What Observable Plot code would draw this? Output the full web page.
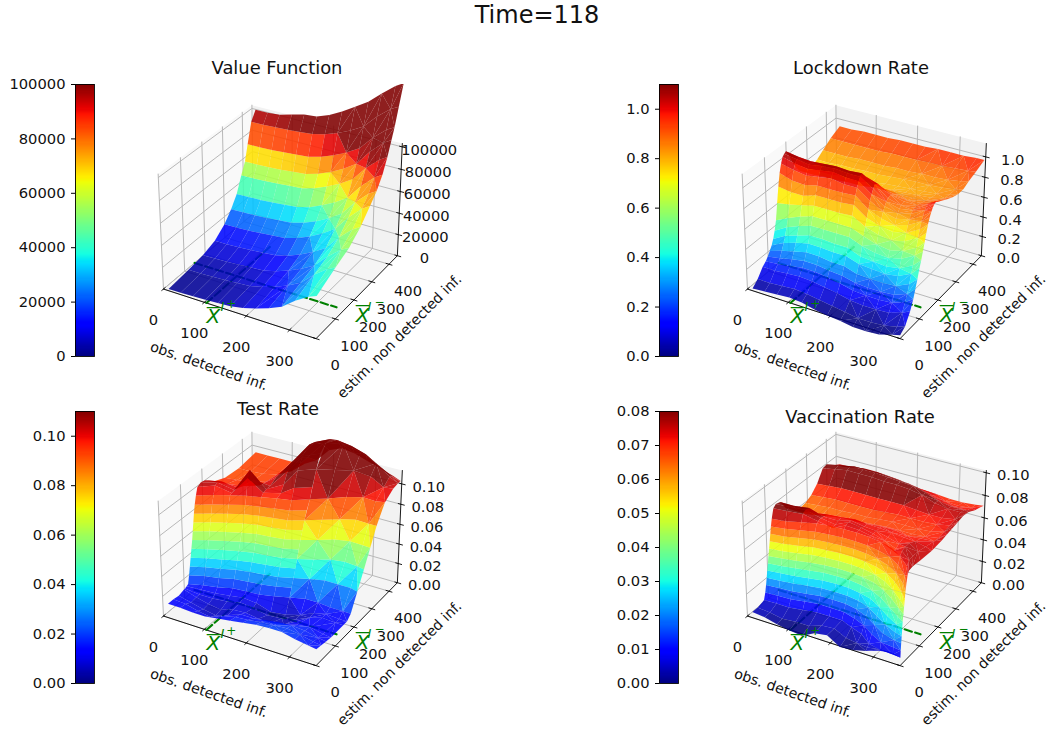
<!DOCTYPE html>
<html><head><meta charset="utf-8">
<script src="https://cdn.jsdelivr.net/npm/d3@7"></script>
<script src="https://cdn.jsdelivr.net/npm/@observablehq/plot@0.6"></script>
<style>
html,body{margin:0;padding:0;background:#fff;overflow:hidden}
#page{position:relative;width:1047px;height:733px;overflow:hidden;font-family:"DejaVu Sans",sans-serif;color:#111}
#page>svg{position:absolute;max-width:none}
.ttl{position:absolute;transform:translate(-50%,-50%);white-space:nowrap;line-height:1}
</style></head><body><div id="page"></div>
<script>
const suptitle = "Time=118";
const gridX = [10,40,70,100,130,160,190,220,250,280,310,340,358];
const valueY = [5,100,170,230,280,315,345,370,390,405,425,448];
const lockdownY = [5,30,55,70,80,90,100,108,116,124,132,140,148,156,164,172,180,195,215,240,270,300,330,360,400,448];
const xTicks = [0,100,200,300];
const yTicks = [0,100,200,300,400];
const xMax = 360, yMax = 450;
const xStar = 105, yStar = 148;

// rows follow the y list, columns follow gridX
const valueZ = [
[500,700,1000,1600,2300,3100,5200,8500,12500,17700,26800,34000,37000],
[2500,2700,3200,3800,4700,5500,8200,12000,16900,23000,33800,42500,46000],
[5000,5200,5700,6400,7400,8300,11100,15300,20500,27100,38800,48200,52000],
[9000,9300,9800,10600,11600,12600,15800,20400,26200,33400,46400,56800,61000],
[17000,17300,17800,18700,19800,20900,24200,29100,35200,42900,56600,67600,72000],
[26000,26300,26800,27600,28700,29800,33000,37900,43800,51400,64900,75700,80000],
[36000,36300,36800,37600,38700,39800,43000,47900,53800,61400,74900,85700,90000],
[50000,50300,50800,51600,52600,53600,56800,61400,67200,74400,87400,97800,102000],
[60000,60300,60800,61600,62700,63800,67000,71900,77800,85400,98900,109700,114000],
[74000,74200,74700,75500,76500,77400,80400,84800,90200,97000,109300,119100,123000],
[92000,92200,92700,93400,94300,95200,98000,102100,107200,113600,125100,134300,138000],
[100000,100000,101000,104000,107000,108000,112000,118000,125000,132000,142000,151000,155000]];

const lockdownZ = [
[.01,.02,.03,.04,.03,.00,-.02,-.03,-.05,-.05,-.04,.00,.02],
[.06,.06,.07,.08,.07,.05,.03,.01,-.01,-.01,.00,.03,.06],
[.14,.14,.15,.16,.15,.13,.11,.08,.07,.07,.08,.12,.16],
[.17,.18,.20,.22,.22,.20,.18,.15,.14,.14,.15,.20,.25],
[.20,.22,.25,.27,.27,.25,.24,.21,.20,.20,.21,.26,.33],
[.24,.28,.31,.34,.34,.32,.32,.28,.27,.27,.28,.34,.41],
[.28,.34,.38,.41,.41,.40,.40,.36,.35,.34,.36,.42,.50],
[.33,.40,.44,.48,.48,.47,.47,.42,.41,.40,.42,.49,.56],
[.40,.47,.52,.56,.56,.56,.56,.51,.48,.47,.50,.57,.63],
[.49,.55,.60,.64,.64,.64,.64,.59,.55,.53,.56,.63,.70],
[.65,.67,.70,.73,.73,.73,.74,.67,.63,.61,.64,.71,.78],
[.80,.78,.78,.82,.82,.82,.83,.74,.70,.68,.71,.78,.85],
[.92,.88,.87,.90,.90,.90,.91,.81,.76,.73,.77,.84,.90],
[1.0,.97,.95,.97,.99,.97,.97,.88,.81,.78,.81,.88,.94],
[1.05,1.02,1.0,1.02,1.04,1.02,1.02,.93,.85,.82,.85,.92,.97],
[1.07,1.05,1.03,1.05,1.06,1.05,1.05,.97,.88,.85,.87,.94,.99],
[1.08,1.06,1.05,1.06,1.07,1.06,1.07,1.0,.90,.87,.88,.95,1.0],
[1.01,1.0,1.0,1.0,1.02,1.0,1.02,.98,.91,.88,.88,.94,.98],
[.90,.90,.90,.90,.92,.90,.93,.91,.88,.86,.87,.91,.95],
[.80,.80,.81,.81,.82,.82,.84,.84,.84,.84,.85,.89,.92],
[.75,.75,.76,.76,.77,.77,.79,.80,.81,.82,.83,.86,.89],
[.74,.74,.75,.75,.76,.76,.78,.79,.80,.81,.82,.85,.87],
[.77,.77,.78,.78,.79,.79,.80,.81,.82,.82,.83,.85,.87],
[.82,.82,.82,.83,.83,.83,.84,.84,.85,.85,.86,.88,.90],
[.88,.88,.88,.88,.88,.89,.89,.89,.90,.90,.91,.92,.93],
[.93,.93,.94,.94,.94,.95,.95,.95,.96,.96,.96,.97,.97]];

// Test Rate: a mesh that follows the wall
const testLowY = [
[5,5,5,5,5,5,5,5,5,5,5,5,5],[30,30,30,30,30,30,30,30,30,30,30,30,30],
[55,55,55,55,55,55,55,55,55,55,55,55,55],[80,80,80,80,80,80,80,80,80,80,80,80,80],
[85,95,100,110,115,118,125,135,140,145,145,145,145],
[93,105,113,125,130,133,143,155,165,170,165,165,165]];
const testLowZ = [
[.013,.013,.012,.012,.014,.016,.018,.020,.021,.021,.018,.016,.015],
[.013,.012,.009,.007,.012,.015,.016,.018,.019,.020,.018,.015,.014],
[.012,.009,.006,.004,.008,.013,.013,.015,.017,.018,.017,.014,.013],
[.014,.010,.007,.005,.009,.010,.008,.008,.010,.014,.016,.013,.012],
[.014,.010,.009,.008,.010,.008,.003,.002,.004,.009,.013,.012,.012],
[.015,.013,.012,.011,.012,.010,.003,.002,.004,.009,.013,.012,.012]];
const testLevels = [.016,.024,.032,.04,.048,.056,.064,.072,.08,.088,.096];
// where each column reaches those levels
const testLevelY = [
[100,106,111,116,121,126,130,134,138,143,150],
[115,122,128,134,141,147,152,157,162,167,175],
[125,133,141,149,157,164,170,176,181,187,195],
[140,148,156,164,172,180,187,194,201,207,213],
[145,155,165,175,185,193,200,206,212,218,225],
[148,160,172,182,190,198,205,212,220,228,240],
[160,170,180,190,198,205,212,220,228,238,250],
[175,185,195,205,213,221,230,240,250,262,278],
[190,200,212,222,232,242,252,263,275,288,305],
[190,210,225,240,254,265,276,287,300,315,335],
[185,205,225,245,262,275,288,302,318,335,355],
[185,205,225,243,258,272,286,300,316,332,352],
[185,205,218,235,252,268,284,300,316,335,360]];
const testTopY = [
[158,183,203,221,235,260,262,290,320,352,375,372,385],
[175,195,215,232,250,275,280,310,340,372,395,395,405],
[195,215,235,250,270,295,305,330,360,392,410,410,420],
[230,240,260,280,300,330,340,360,385,410,425,428,433],
[290,290,300,320,340,360,370,385,405,425,437,438,440],
[360,360,360,370,380,400,410,420,430,438,442,443,444],
[448,448,448,448,448,448,448,448,448,448,448,448,448]];
const testTopZ = [
[.103,.104,.097,.112,.099,.098,.106,.106,.104,.104,.102,.100,.100],
[.105,.105,.098,.118,.100,.104,.120,.120,.118,.116,.110,.103,.102],
[.104,.103,.097,.106,.100,.114,.130,.132,.130,.124,.116,.106,.103],
[.097,.097,.095,.096,.104,.120,.136,.138,.136,.128,.118,.108,.103],
[.092,.093,.093,.094,.105,.118,.134,.138,.136,.126,.116,.107,.103],
[.091,.091,.092,.093,.098,.112,.126,.132,.128,.122,.113,.106,.103],
[.094,.094,.094,.094,.095,.102,.115,.12,.118,.114,.11,.106,.103]];

// Vaccination Rate: a mesh that follows the wall
const vaccinationLowY = [
[5,5,5,5,5,5,5,5,5,5,5,5,5],
[30,30,30,35,40,40,40,35,25,12,7,6,5.5]];
const vaccinationLowZ = [
[.004,.003,.000,-.002,-.003,.003,.005,-.002,-.001,.002,.006,.008,.006],
[.004,.003,.001,.001,.000,.004,.005,.001,.002,.004,.007,.008,.006]];
const vaccinationLevels = [.006,.012,.018,.024,.03,.036,.042,.048,.054,.06,.066,.072];
const vaccinationLevelY = [
[60,67,72,76,80,84,88,92,96,100,104,109],
[62,70,76,81,86,90,94,98,102,106,111,116],
[62,72,80,86,92,98,103,108,113,118,124,132],
[70,80,88,95,101,107,113,119,125,131,137,145],
[78,88,96,103,109,115,120,125,130,136,142,152],
[78,88,97,105,112,118,123,128,134,140,146,155],
[78,88,97,105,112,118,123,128,134,140,146,155],
[62,76,88,98,105,112,118,124,130,136,143,152],
[48,60,72,84,94,102,110,116,122,128,135,145],
[20,34,48,60,72,82,92,100,107,114,122,133],
[10,15,25,36,46,56,66,74,82,90,98,108],
[8,10,13,18,24,30,36,42,49,56,64,75],
[6,7,9,11,13,15,18,21,24,27,31,36]];
const vaccinationTopY = [
[118,123,140,152,160,163,165,160,152,142,117,84,42],
[130,135,152,165,175,178,178,172,165,155,135,105,60],
[150,155,170,180,190,192,192,188,180,170,155,130,100],
[175,175,190,200,205,208,208,205,200,195,185,170,160],
[215,215,215,215,215,215,215,215,215,215,215,215,215],
[240,240,240,240,240,240,240,240,240,240,240,240,240],
[270,270,270,270,270,270,270,270,270,270,270,270,270],
[300,300,300,300,300,300,300,300,300,300,300,300,300],
[330,330,330,330,330,330,330,330,330,330,330,330,330],
[360,360,360,360,360,360,360,360,360,360,360,360,360],
[380,380,380,380,380,380,380,380,380,380,380,380,380],
[400,400,400,400,400,400,400,400,400,400,400,400,400],
[420,420,420,420,420,420,420,420,420,420,420,420,420],
[448,448,448,448,448,448,448,448,448,448,448,448,448]];
const vaccinationTopZ = [
[.080,.080,.078,.073,.069,.074,.073,.072,.070,.068,.075,.076,.075],
[.082,.082,.080,.074,.070,.075,.073,.072,.070,.068,.076,.076,.076],
[.081,.080,.079,.073,.071,.074,.072,.072,.071,.070,.076,.076,.075],
[.072,.072,.072,.072,.072,.073,.072,.072,.072,.072,.073,.074,.074],
[.064,.064,.066,.068,.070,.070,.071,.072,.072,.070,.071,.072,.075],
[.062,.062,.064,.065,.066,.066,.067,.068,.068,.068,.069,.071,.076],
[.063,.064,.065,.065,.066,.066,.067,.068,.068,.068,.069,.072,.077],
[.066,.067,.068,.068,.068,.068,.069,.070,.070,.070,.071,.073,.078],
[.072,.073,.074,.074,.074,.074,.074,.074,.073,.072,.072,.074,.079],
[.082,.084,.086,.086,.086,.085,.085,.084,.082,.078,.076,.076,.078],
[.083,.085,.087,.087,.087,.086,.085,.084,.081,.077,.075,.075,.076],
[.080,.082,.084,.084,.084,.083,.082,.080,.076,.073,.072,.072,.074],
[.077,.078,.08,.08,.08,.079,.078,.076,.073,.071,.07,.071,.073],
[.074,.074,.076,.076,.075,.074,.072,.07,.07,.069,.069,.07,.071]];

const titles = ["Value Function","Lockdown Rate","Test Rate","Vaccination Rate"];
const titleCenters = [[277,68],[861,68],[278,409],[860,417]];
const zLimits = [103000,1.13,.113,.102];
const colorMax = [100000,1.1,.11,.08];
const zTicks = [[0,20000,40000,60000,80000,100000],[0,.2,.4,.6,.8,1],[0,.02,.04,.06,.08,.1],[0,.02,.04,.06,.08,.1]];
const barTicks = [[0,20000,40000,60000,80000,100000],[0,.2,.4,.6,.8,1],[0,.02,.04,.06,.08,.1],[0,.01,.02,.03,.04,.05,.06,.07,.08]];
const tickFormats = ["d",".1f",".2f",".2f"];
// the Test Rate facets on the right are visibly larger in the picture
const coarseRows = [null,null,[0,1,2,3,4,5,6,8,10,12,14,16,18,20,22,23],null];

const flatRows=(ys)=>ys.map(y=>gridX.map(()=>y));
const levelRows=(ls)=>ls.map(z=>gridX.map(()=>z));
const meshY=[flatRows(valueY),flatRows(lockdownY),
  [...testLowY,...d3.transpose(testLevelY),...testTopY],
  [...vaccinationLowY,...d3.transpose(vaccinationLevelY),...vaccinationTopY]];
const meshZ=[valueZ,lockdownZ,
  [...testLowZ,...levelRows(testLevels),...testTopZ],
  [...vaccinationLowZ,...levelRows(vaccinationLevels),...vaccinationTopZ]];

const jetStops = [0,.11,.125,.34,.35,.375,.64,.65,.66,.89,.91,1];
const jetColors = ["rgb(0,0,128)","rgb(0,0,255)","rgb(0,0,255)","rgb(0,219,255)","rgb(0,230,247)","rgb(21,255,226)",
 "rgb(238,255,8)","rgb(247,246,0)","rgb(255,236,0)","rgb(255,19,0)","rgb(232,0,0)","rgb(128,0,0)"];

const page = document.getElementById("page");
const FONT = {fontFamily:"DejaVu Sans, sans-serif",background:"transparent",overflow:"visible"};
const TICK = 14.7, LABEL = 14.2;

function addTitle(text,cx,cy,size){
  const d=document.createElement("div");d.className="ttl";d.textContent=text;
  d.style.left=cx+"px";d.style.top=cy+"px";d.style.fontSize=size+"px";page.appendChild(d);
}
// matplotlib's default 3D view: elev 30, azim -60, perspective at distance 10
const BX=1.1429,BY=1.1429,BZ=.8571;
function projector(zMax){
  return (x,y,z)=>{
    const dx=(x/xMax-.5)*BX, dy=(y/yMax-.5)*BY, dz=(z/zMax-.5)*BZ;
    const depth=.433*dx-.75*dy+.5*dz, den=10-depth;
    return {u:(.866*dx+.5*dy)/den, v:(-.25*dx+.433*dy+.866*dz)/den, depth};
  };
}
function panel(i){
  const col=i%2,row=i>>1,zMax=zLimits[i],vMax=colorMax[i],P=projector(zMax),Z=meshZ[i],Y=meshY[i];
  const colorScale={type:"linear",domain:jetStops.map(t=>t*vMax),range:jetColors,clamp:true};
  // surface facets: whole quads on the left, triangles on the coarser right side
  const polys=[];
  const vert=(r,c)=>[gridX[c],Y[r][c],Z[r][c]];
  const leftRows=d3.range(Y.length), rightRows=coarseRows[i]||leftRows;
  for(let c=0;c<gridX.length-1;c++){
    const rows=c<7?leftRows:rightRows;
    for(let k=0;k<rows.length-1;k++){
      const r0=rows[k],r1=rows[k+1];
      const a=vert(r0,c),b=vert(r0,c+1),d=vert(r1,c+1),e=vert(r1,c);
      if(c<7) polys.push([a,b,d,e]);
      else polys.push(...((k+c)%2?[[a,b,d],[a,d,e]]:[[a,b,e],[b,d,e]]));
    }
  }
  const faces=polys.map(t=>{
    const p=t.map(q=>P(...q));
    return {p,val:d3.mean(t,q=>q[2]),depth:d3.mean(p,q=>q.depth)};
  }).sort((a,b)=>a.depth-b.depth);
  const faceRows=faces.flatMap((f,k)=>f.p.map(q=>({u:q.u,v:q.v,id:k,val:f.val})));
  const path=(pts,id=0)=>pts.map(q=>({...P(...q),id}));
  const seg=(list)=>list.flatMap((pts,k)=>path(pts,k));
  const floor=path([[0,0,0],[xMax,0,0],[xMax,yMax,0],[0,yMax,0]]);
  const left=path([[0,0,0],[0,yMax,0],[0,yMax,zMax],[0,0,zMax]]);
  const back=path([[0,yMax,0],[xMax,yMax,0],[xMax,yMax,zMax],[0,yMax,zMax]]);
  const grid=seg([
    ...xTicks.map(x=>[[x,0,0],[x,yMax,0],[x,yMax,zMax]]),
    ...yTicks.map(y=>[[xMax,y,0],[0,y,0],[0,y,zMax]]),
    ...zTicks[i].map(z=>[[0,0,z],[0,yMax,z],[xMax,yMax,z]])]);
  const axes=seg([[[0,0,0],[xMax,0,0],[xMax,yMax,0],[xMax,yMax,zMax]]]);
  const ticks=seg([
    ...xTicks.map(x=>[[x,8,0],[x,-8,0]]),
    ...yTicks.map(y=>[[xMax-7,y,0],[xMax+7,y,0]]),
    ...zTicks[i].map(z=>[[xMax-6,yMax,z],[xMax+8,yMax,z]])]);
  const dashes=seg([[[xStar,0,0],[xStar,yStar*2.2,0]],[[0,yStar,0],[xMax-18,yStar,0]]]);
  const ln=(d,o)=>Plot.line(d,{x:"u",y:"v",z:"id",...o});
  const at=(d,f,text,o)=>Plot.text(d,{x:q=>f(q).u,y:q=>f(q).v,text,fontSize:TICK,fill:"#111",...o});
  const plus=P(xStar,0,0),minus=P(xMax-2,yStar,0);
  const g={fill:"green",fontStyle:"italic"};
  const svg=Plot.plot({
    width:470,height:405,marginTop:84,marginLeft:0,marginRight:0,marginBottom:0,
    style:FONT,
    x:{axis:null,domain:[-.1,.1],range:[129,435]},
    y:{axis:null,domain:[-.1,.1],range:[369,63]},
    color:colorScale,
    marks:[
      ln(floor,{fill:"#f5f5f5",stroke:"none"}),
      ln(left,{fill:"#f9f9f9",stroke:"none"}),
      ln(back,{fill:"#f2f2f2",stroke:"none"}),
      ln(grid,{stroke:"#b8b8b8",strokeWidth:1}),
      ln(axes,{stroke:"#000",strokeWidth:.9}),
      ln(ticks,{stroke:"#000",strokeWidth:.9}),
      ln(dashes,{stroke:"green",strokeWidth:2.1,strokeDasharray:"7.7 3.3"}),
      ln(faceRows,{fill:"val",stroke:"none",fillOpacity:.88,clip:true}),
      at(xTicks,x=>P(x,0,0),String,{dx:-10,dy:31}),
      at(yTicks,y=>P(xMax,y,0),String,{dx:19,dy:27}),
      at(zTicks[i],z=>P(xMax,yMax,z),d3.format(tickFormats[i]),{dx:27,dy:3}),
      at([180],x=>P(x,0,0),()=>"obs. detected inf.",{dx:-29,dy:53,rotate:19,fontSize:LABEL}),
      at([225],y=>P(xMax,y,0),()=>"estim. non detected inf.",{dx:41,dy:41,rotate:-45,fontSize:LABEL}),
      Plot.text([plus],{x:"u",y:"v",text:()=>"X",fontSize:20,dx:7,dy:14,...g}),
      Plot.text([plus],{x:"u",y:"v",text:()=>"—",fontSize:15,dx:7,dy:4,fill:"green"}),
      Plot.text([plus],{x:"u",y:"v",text:()=>"I",fontSize:13,dx:16,dy:4,...g}),
      Plot.text([plus],{x:"u",y:"v",text:()=>"+",fontSize:12,dx:25,dy:1,fill:"green"}),
      Plot.text([minus],{x:"u",y:"v",text:()=>"X",fontSize:20,dx:19,dy:6,...g}),
      Plot.text([minus],{x:"u",y:"v",text:()=>"—",fontSize:15,dx:19,dy:-4,fill:"green"}),
      Plot.text([minus],{x:"u",y:"v",text:()=>"I",fontSize:13,dx:26,dy:-3,...g}),
      Plot.text([minus],{x:"u",y:"v",text:()=>"−",fontSize:12,dx:36,dy:-7,fill:"green"})
    ]
  });
  svg.style.left=col*584+"px";svg.style.top=row*327+"px";
  page.appendChild(svg);
  // colour bar
  const cells=d3.range(256).map(k=>({lo:k/256*vMax,hi:(k+1)/256*vMax,mid:(k+.5)/256*vMax}));
  const bar=Plot.plot({
    width:100,height:280,marginLeft:75,marginRight:6,marginTop:4,marginBottom:4,
    style:FONT,
    x:{axis:null,domain:[0,1]},
    y:{domain:[0,vMax],axis:null},
    color:colorScale,
    marks:[
      Plot.rect(cells,{x1:()=>0,x2:()=>1,y1:"lo",y2:"hi",fill:"mid",shapeRendering:"crispEdges"}),
      Plot.frame({stroke:"#000",strokeWidth:.9}),
      Plot.axisY(barTicks[i],{anchor:"left",tickSize:4,tickPadding:6,fontSize:TICK,label:null,tickFormat:d3.format(tickFormats[i]),stroke:"#000",fill:"#111"})
    ]
  });
  bar.style.left=col*584+"px";bar.style.top=(80+row*327)+"px";
  page.appendChild(bar);
  addTitle(titles[i],titleCenters[i][0],titleCenters[i][1],17.9);
}
addTitle(suptitle,537,15,24);
[0,1,2,3].forEach(panel);
</script></body></html>
